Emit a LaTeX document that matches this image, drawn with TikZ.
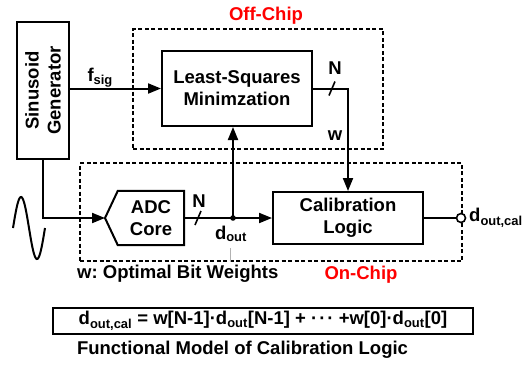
\documentclass[tikz,border=0pt]{standalone}
\usepackage{fontspec}
\setmainfont{Liberation Sans}
\usetikzlibrary{arrows.meta}
\frenchspacing
\begin{document}
\begin{tikzpicture}[x=1pt,y=-1pt,
  font=\fontsize{18.5}{22}\selectfont\bfseries,
  box/.style={draw, line width=2pt, align=center, inner sep=0pt},
  chip/.style={draw, line width=1.6pt, dash pattern=on 4pt off 2.5pt, inner sep=0pt},
  wire/.style={line width=2pt},
  arr/.style={wire, -{Triangle[length=13pt,width=10pt]}},
  slash/.style={line width=1.6pt},
  redlbl/.style={text=red}]
\useasboundingbox (0,0) rectangle (527,365);

% dashed chip regions
\node[chip, minimum width=250pt, minimum height=120pt] (offchip) at (258,89) {};
\node[chip, minimum width=382pt, minimum height=98pt] (onchip) at (271,212) {};
\node[redlbl] (offl) at (266,16) {Off-Chip};
\node[redlbl] (onl) at (361,275) {On-Chip};

% blocks
\node[box, minimum width=52pt, minimum height=137pt] (gen) at (43,90.5) {};
\node[rotate=90, align=center] (gentext) at (gen.center) {Sinusoid\\Generator};
\node[box, minimum width=150pt, minimum height=75pt] (ls) at (237,88.5) {Least-Squares\\Minimzation};
\node[box, minimum width=150pt, minimum height=52pt] (cal) at (348,218) {Calibration\\Logic};
\node[align=center, minimum width=66pt, minimum height=54pt, inner sep=0pt] (adc) at (151,218) {ADC\\Core};
\coordinate (adctip) at (105,218);
\draw[wire, line join=miter] (adc.north west) -- (adc.north east) -- (adc.south east) -- (adc.south west) -- (adctip) -- cycle;

% sinusoid
\draw[wire] plot[domain=13:45, samples=60, smooth] (\x, {228-31*sin(360*(\x-13)/32)});

% connectors
\draw[arr] (gen.east |- ls.west) -- (ls.west);
\node[anchor=base west] (fsig) at (84,81) {f\textsubscript{sig}};

\draw[arr] (ls.east) -- (ls.east -| cal.north) -- (cal.north);
\coordinate (s1) at (332,88.5);
\draw[slash] ([shift={(-3,7)}]s1) -- ([shift={(3,-7)}]s1);
\node (n1) at (335,68.5) {N};
\node (wl) at (335,136) {w};

\draw[arr] (gen.south) -- (gen.south |- adctip) -- (adctip);

\coordinate (tap) at (233,218);
\draw[arr] (adc.east) -- (cal.west);
\draw[arr] (tap) -- (tap |- ls.south);
\fill (tap) circle (2.8pt);
\coordinate (s2) at (198,218);
\draw[slash] ([shift={(-3,7)}]s2) -- ([shift={(3,-7)}]s2);
\node (n2) at (199,201) {N};
\node (doutl) at (231,234) {d\textsubscript{out}};
\draw[gray!60, line width=0.6pt] (230,248) -- (230,262);

\coordinate (outc) at (461,218);
\draw[wire] (cal.east) -- (outc);
\draw[line width=1.6pt, fill=white] (outc) circle (4.5pt);
\node[anchor=west, inner sep=0pt] (doutcal) at (469,218) {d\textsubscript{out,cal}};

% legend
\node[anchor=west, inner sep=0pt] (wopt) at (77,274) {w: Optimal Bit Weights};
\node[draw, line width=2pt, minimum width=420pt, minimum height=26pt, inner sep=0pt] (formula) at (263,321)
  {d\textsubscript{out,cal} = w[N-1]·d\textsubscript{out}[N-1] + ·\kern2pt·\kern2pt· +w[0]·d\textsubscript{out}[0]};
\node (func) at (242.5,350) {Functional Model of Calibration Logic};
\end{tikzpicture}
\end{document}
